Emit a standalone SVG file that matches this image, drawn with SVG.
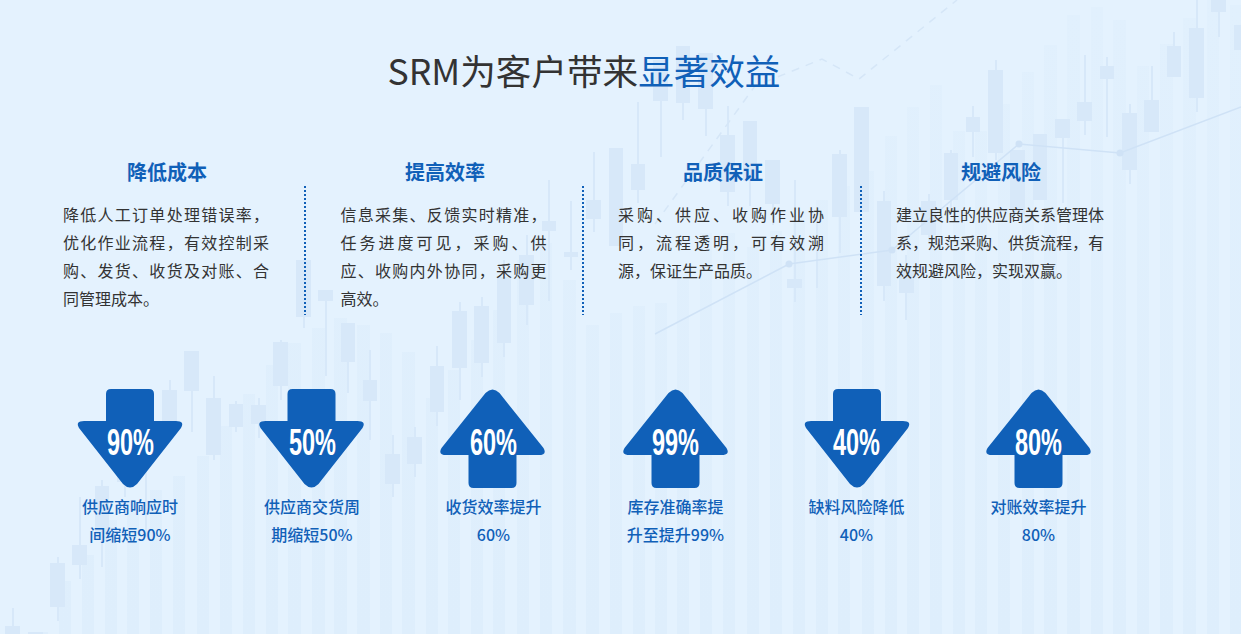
<svg xmlns="http://www.w3.org/2000/svg" width="1241" height="634" viewBox="0 0 1241 634">
<style>
text{font-family:"Noto Sans CJK SC","Noto Sans",sans-serif}
.bar{fill:url(#barFill)}
.ttl{font-size:35.6px;fill:#333;text-anchor:middle}
.blue{fill:#1060b8}
.h{font-size:20px;font-weight:700;fill:#1060b8;text-anchor:middle}
.b{font-size:16px;fill:#333}
.cap{font-size:16px;font-weight:500;fill:#1060b8;text-anchor:middle}
.pct{font-family:"Liberation Sans Narrow","Liberation Sans",Arial,sans-serif;font-weight:700;font-size:36px;fill:#fff;text-anchor:middle}
.arrow{fill:#1060b8}
.div{stroke:#1060b8;stroke-width:2;stroke-dasharray:2 2;fill:none}
</style>
<defs>
<linearGradient id="barFill" gradientUnits="userSpaceOnUse" x1="0" y1="0" x2="0" y2="634">
<stop offset="0" stop-color="#e1f0fd"/><stop offset="1" stop-color="#deeefc"/>
</linearGradient>
<path id="down" d="M-24,394Q-24,389 -19,389H19Q24,389 24,394V421H46Q55,421 51,428L7,484Q0,491 -7,484L-51,428Q-55,421 -46,421H-24Z"/>
<path id="up" d="M-24,483Q-24,488 -19,488H19Q24,488 24,483V455H46Q55,455 51,448L7,393Q0,386 -7,393L-51,448Q-55,455 -46,455H-24Z"/>
</defs>
<rect width="1241" height="634" fill="#e4f2fe"/>
<g id="bars" class="bar">
<rect x="36" y="632" width="12" height="2"/><rect x="59" y="581" width="12" height="53"/><rect x="82" y="555" width="12" height="79"/><rect x="105" y="520" width="12" height="114"/><rect x="127" y="500" width="12" height="134"/><rect x="150" y="490" width="12" height="144"/><rect x="173" y="476" width="12" height="158"/><rect x="197" y="456" width="12" height="178"/><rect x="220" y="426" width="12" height="208"/><rect x="243" y="394" width="12" height="240"/><rect x="266" y="365" width="12" height="269"/><rect x="288" y="343" width="13" height="291"/><rect x="312" y="328" width="13" height="306"/><rect x="334" y="318" width="13" height="316"/><rect x="357" y="325" width="13" height="309"/><rect x="380" y="333" width="12" height="301"/><rect x="402" y="352" width="13" height="282"/><rect x="426" y="398" width="12" height="236"/><rect x="448" y="370" width="12" height="264"/><rect x="471" y="340" width="12" height="294"/><rect x="493" y="310" width="12" height="324"/><rect x="517" y="260" width="12" height="374"/><rect x="540" y="243" width="12" height="391"/><rect x="563" y="280" width="13" height="354"/><rect x="586" y="325" width="13" height="309"/><rect x="610" y="313" width="12" height="321"/><rect x="633" y="306" width="12" height="328"/><rect x="655" y="303" width="12" height="331"/><rect x="677" y="270" width="12" height="364"/><rect x="700" y="233" width="12" height="401"/><rect x="723" y="233" width="12" height="401"/><rect x="747" y="247" width="12" height="387"/><rect x="770" y="231" width="12" height="403"/><rect x="793" y="222" width="12" height="412"/><rect x="816" y="200" width="12" height="434"/><rect x="838" y="186" width="12" height="448"/><rect x="862" y="171" width="12" height="463"/><rect x="885" y="136" width="12" height="498"/><rect x="907" y="107" width="12" height="527"/><rect x="930" y="85" width="12" height="549"/><rect x="953" y="131" width="12" height="503"/><rect x="975" y="131" width="12" height="503"/><rect x="998" y="104" width="12" height="530"/><rect x="1022" y="72" width="12" height="562"/><rect x="1044" y="45" width="13" height="589"/><rect x="1067" y="15" width="13" height="619"/><rect x="1091" y="7" width="12" height="627"/><rect x="1113" y="20" width="13" height="614"/><rect x="1137" y="66" width="12" height="568"/><rect x="1160" y="44" width="13" height="590"/><rect x="1183" y="18" width="13" height="616"/><rect x="1207" y="0" width="12" height="634"/><rect x="1230" y="5" width="11" height="629"/>
</g>
<g id="candles" fill="#d7e8f9">
<rect x="5" y="626" width="15" height="8"/><rect x="12" y="608" width="2" height="26"/>
<rect x="28" y="632" width="15" height="2"/>
<rect x="50" y="563" width="15" height="44"/><rect x="57" y="557" width="2" height="64"/>
<rect x="72" y="545" width="15" height="20"/><rect x="79" y="497" width="2" height="82"/>
<rect x="95" y="486" width="14" height="54"/><rect x="101" y="480" width="2" height="87"/>
<rect x="117" y="440" width="15" height="42"/><rect x="124" y="430" width="2" height="67"/>
<rect x="145" y="400" width="2" height="137"/>
<rect x="162" y="390" width="15" height="32"/><rect x="169" y="380" width="2" height="55"/>
<rect x="184" y="351" width="15" height="40"/><rect x="191" y="351" width="2" height="81"/>
<rect x="206" y="398" width="15" height="57"/><rect x="213" y="376" width="2" height="84"/>
<rect x="229" y="404" width="14" height="23"/><rect x="235" y="401" width="2" height="31"/>
<rect x="251" y="405" width="15" height="19"/><rect x="258" y="398" width="2" height="40"/>
<rect x="273" y="342" width="15" height="44"/><rect x="280" y="340" width="2" height="60"/>
<rect x="296" y="260" width="15" height="57"/><rect x="303" y="260" width="2" height="68"/>
<rect x="318" y="290" width="15" height="11"/><rect x="325" y="290" width="2" height="86"/>
<rect x="341" y="323" width="14" height="39"/><rect x="347" y="323" width="2" height="70"/>
<rect x="363" y="380" width="14" height="21"/><rect x="369" y="350" width="2" height="90"/>
<rect x="385" y="454" width="15" height="30"/><rect x="392" y="435" width="2" height="62"/>
<rect x="407" y="437" width="15" height="27"/><rect x="414" y="427" width="2" height="50"/>
<rect x="430" y="366" width="14" height="46"/><rect x="436" y="346" width="2" height="80"/>
<rect x="452" y="311" width="15" height="57"/><rect x="459" y="302" width="2" height="98"/>
<rect x="474" y="306" width="15" height="57"/><rect x="481" y="297" width="2" height="80"/>
<rect x="497" y="277" width="14" height="66"/><rect x="503" y="260" width="2" height="97"/>
<rect x="519" y="255" width="15" height="50"/><rect x="526" y="235" width="2" height="90"/>
<rect x="542" y="221" width="14" height="10"/><rect x="548" y="180" width="2" height="121"/>
<rect x="564" y="252" width="14" height="5"/><rect x="570" y="201" width="2" height="69"/>
<rect x="586" y="200" width="15" height="19"/><rect x="593" y="152" width="2" height="80"/>
<rect x="609" y="148" width="14" height="98"/>
<rect x="631" y="164" width="14" height="26"/><rect x="637" y="102" width="2" height="101"/>
<rect x="653" y="60" width="15" height="41"/><rect x="660" y="60" width="2" height="97"/>
<rect x="676" y="46" width="14" height="57"/><rect x="682" y="46" width="2" height="74"/>
<rect x="698" y="53" width="15" height="56"/><rect x="705" y="53" width="2" height="83"/>
<rect x="720" y="135" width="15" height="57"/><rect x="727" y="106" width="2" height="100"/>
<rect x="743" y="121" width="14" height="60"/><rect x="749" y="121" width="2" height="85"/>
<rect x="765" y="160" width="15" height="44"/><rect x="772" y="160" width="2" height="65"/>
<rect x="787" y="279" width="15" height="9"/><rect x="794" y="180" width="2" height="122"/>
<rect x="816" y="215" width="2" height="73"/>
<rect x="832" y="154" width="15" height="63"/><rect x="839" y="150" width="2" height="103"/>
<rect x="854" y="107" width="15" height="105"/>
<rect x="877" y="201" width="14" height="85"/><rect x="883" y="191" width="2" height="110"/>
<rect x="899" y="270" width="15" height="23"/><rect x="905" y="255" width="2" height="65"/>
<rect x="921" y="201" width="15" height="34"/><rect x="928" y="194" width="2" height="50"/>
<rect x="944" y="153" width="14" height="47"/><rect x="950" y="150" width="2" height="60"/>
<rect x="966" y="117" width="14" height="15"/><rect x="972" y="106" width="2" height="51"/>
<rect x="988" y="70" width="15" height="83"/><rect x="995" y="60" width="2" height="100"/>
<rect x="1010" y="150" width="15" height="65"/>
<rect x="1033" y="134" width="14" height="66"/>
<rect x="1055" y="119" width="15" height="19"/><rect x="1062" y="119" width="2" height="84"/>
<rect x="1077" y="102" width="15" height="19"/><rect x="1084" y="55" width="2" height="80"/>
<rect x="1100" y="66" width="14" height="13"/><rect x="1106" y="57" width="2" height="80"/>
<rect x="1122" y="113" width="15" height="57"/><rect x="1129" y="104" width="2" height="80"/>
<rect x="1144" y="100" width="15" height="32"/><rect x="1151" y="66" width="2" height="66"/>
<rect x="1167" y="46" width="14" height="31"/><rect x="1173" y="32" width="2" height="45"/>
<rect x="1189" y="28" width="15" height="70"/><rect x="1196" y="0" width="2" height="112"/>
<rect x="1211" y="0" width="15" height="12"/><rect x="1218" y="0" width="2" height="37"/>
<rect x="1234" y="25" width="7" height="25"/>
</g>
<g id="trend" fill="none" stroke="#cfe2f6">
<polyline points="655,334 789,264 892,250 1019,144 1120,153 1241,107" stroke-width="1.5"/>
<polyline points="655,224 755,86 822,59 859,79 957,0" stroke-width="1.5" stroke-dasharray="8 7" stroke="#d5e6f7"/>
<g fill="#cfe2f6" stroke="none"><circle cx="789" cy="264" r="3.5"/><circle cx="892" cy="250" r="3.5"/><circle cx="1019" cy="144" r="3.5"/><circle cx="1120" cy="153" r="3.5"/></g>
</g>
<text id="title" class="ttl" x="584" y="84.5">SRM为客户带来<tspan class="blue">显著效益</tspan></text>
<g id="col1">
<text class="h" x="167" y="179.5">降低成本</text>
<text class="b" x="63" y="221" textLength="206">降低人工订单处理错误率，</text>
<text class="b" x="63" y="249" textLength="206">优化作业流程，有效控制采</text>
<text class="b" x="63" y="277" textLength="206">购、发货、收货及对账、合</text>
<text class="b" x="63" y="305">同管理成本。</text>
</g>
<g id="col2">
<text class="h" x="445" y="179.5">提高效率</text>
<text class="b" x="340.5" y="221" textLength="206">信息采集、反馈实时精准，</text>
<text class="b" x="340.5" y="249" textLength="206">任务进度可见，采购、供</text>
<text class="b" x="340.5" y="277" textLength="206">应、收购内外协同，采购更</text>
<text class="b" x="340.5" y="305">高效。</text>
</g>
<g id="col3">
<text class="h" x="723" y="179.5">品质保证</text>
<text class="b" x="618" y="221" textLength="206">采购、供应、收购作业协</text>
<text class="b" x="618" y="249" textLength="206">同，流程透明，可有效溯</text>
<text class="b" x="618" y="277">源，保证生产品质。</text>
</g>
<g id="col4">
<text class="h" x="1001" y="179.5">规避风险</text>
<text class="b" x="896" y="221">建立良性的供应商关系管理体</text>
<text class="b" x="896" y="249">系，规范采购、供货流程，有</text>
<text class="b" x="896" y="277">效规避风险，实现双赢。</text>
</g>
<g id="dividers">
<line class="div" x1="305" y1="186" x2="305" y2="315"/>
<line class="div" x1="583" y1="186" x2="583" y2="315"/>
<line class="div" x1="861" y1="186" x2="861" y2="315"/>
</g>
<g id="stat1">
<use href="#down" class="arrow" x="130"/>
<text class="pct" x="130.5" y="455" textLength="47" lengthAdjust="spacingAndGlyphs">90%</text>
<text class="cap" x="130" y="513">供应商响应时</text><text class="cap" x="130" y="540.5">间缩短90%</text>
</g>
<g id="stat2">
<use href="#down" class="arrow" x="311.5"/>
<text class="pct" x="312.5" y="455" textLength="47" lengthAdjust="spacingAndGlyphs">50%</text>
<text class="cap" x="312" y="513">供应商交货周</text><text class="cap" x="312" y="540.5">期缩短50%</text>
</g>
<g id="stat3">
<use href="#up" class="arrow" x="492.5"/>
<text class="pct" x="493.5" y="455" textLength="47" lengthAdjust="spacingAndGlyphs">60%</text>
<text class="cap" x="493.5" y="513">收货效率提升</text><text class="cap" x="493.5" y="540.5">60%</text>
</g>
<g id="stat4">
<use href="#up" class="arrow" x="675.5"/>
<text class="pct" x="675.5" y="455" textLength="47" lengthAdjust="spacingAndGlyphs">99%</text>
<text class="cap" x="675.5" y="513">库存准确率提</text><text class="cap" x="675.5" y="540.5">升至提升99%</text>
</g>
<g id="stat5">
<use href="#down" class="arrow" x="857"/>
<text class="pct" x="856.5" y="455" textLength="47" lengthAdjust="spacingAndGlyphs">40%</text>
<text class="cap" x="856.5" y="513">缺料风险降低</text><text class="cap" x="856.5" y="540.5">40%</text>
</g>
<g id="stat6">
<use href="#up" class="arrow" x="1038.5"/>
<text class="pct" x="1038.5" y="455" textLength="47" lengthAdjust="spacingAndGlyphs">80%</text>
<text class="cap" x="1038.5" y="513">对账效率提升</text><text class="cap" x="1038.5" y="540.5">80%</text>
</g>
</svg>
